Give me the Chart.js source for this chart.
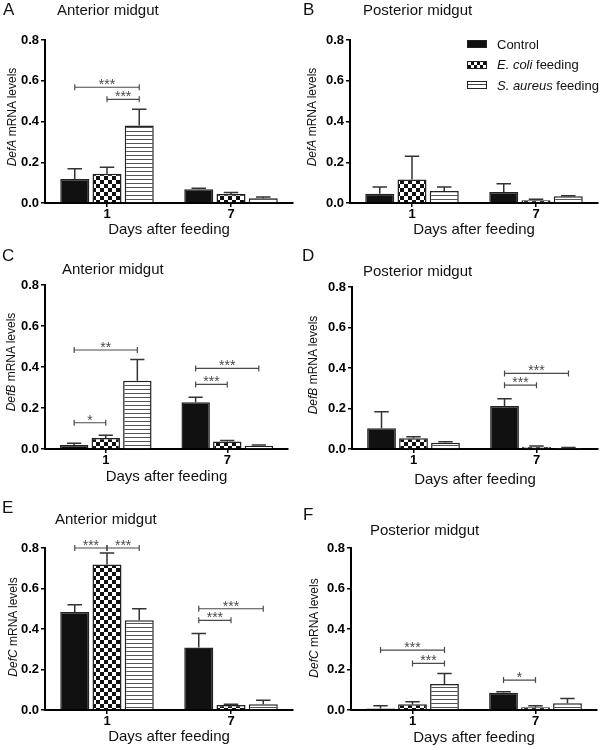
<!DOCTYPE html>
<html>
<head>
<meta charset="utf-8">
<script src="https://cdn.jsdelivr.net/npm/chart.js@4"></script>
<style>
  body { margin: 0; background: #fff; font-family: "Liberation Sans", Arial, sans-serif; color: #111; }
  #wrap { position: relative; width: 600px; height: 750px; }
  canvas { position: absolute; }
  .letter { position: absolute; font-size: 17px; line-height: 16px; }
  .ttl { position: absolute; font-size: 15px; line-height: 15px; white-space: nowrap; }
  .ytitle { position: absolute; font-size: 12px; line-height: 12px; white-space: nowrap;
            transform: translate(-50%, -50%) rotate(-90deg); }
  #legend { position: absolute; left: 467px; top: 34px; font-size: 13px; }
  #legend div { display: flex; align-items: center; height: 20.5px; }
  #legend span.sw { display: inline-block; width: 18px; height: 6px; border: 1.5px solid #222; margin-right: 10px; }
  .sw.ctrl { background: #111; }
  .sw.eco { background: repeating-conic-gradient(#111 0 25%, #fff 0 50%) 0 0 / 6px 6px; }
  .sw.sau { background: linear-gradient(#fff 0 2.5px, #444 2.5px 3.5px, #fff 3.5px); }
</style>
</head>
<body>
<div id="wrap">
  <canvas id="cA" width="300" height="250" style="left:0;top:0"></canvas>
  <canvas id="cB" width="300" height="250" style="left:300px;top:0"></canvas>
  <canvas id="cC" width="300" height="250" style="left:0;top:250px"></canvas>
  <canvas id="cD" width="300" height="250" style="left:300px;top:250px"></canvas>
  <canvas id="cE" width="300" height="250" style="left:0;top:500px"></canvas>
  <canvas id="cF" width="300" height="250" style="left:300px;top:500px"></canvas>

  <div class="letter" style="left:3px;top:2px">A</div>
  <div class="ttl" style="left:57px;top:2px">Anterior midgut</div>
  <div class="letter" style="left:303px;top:2px">B</div>
  <div class="ttl" style="left:363px;top:2px">Posterior midgut</div>
  <div class="letter" style="left:2px;top:248px">C</div>
  <div class="ttl" style="left:62px;top:261px">Anterior midgut</div>
  <div class="letter" style="left:302px;top:248px">D</div>
  <div class="ttl" style="left:363px;top:263px">Posterior midgut</div>
  <div class="letter" style="left:2px;top:500px">E</div>
  <div class="ttl" style="left:55px;top:511px">Anterior midgut</div>
  <div class="letter" style="left:303px;top:507px">F</div>
  <div class="ttl" style="left:370px;top:522px">Posterior midgut</div>

  <div class="ytitle" style="left:11.5px;top:117px"><i>DefA</i> mRNA levels</div>
  <div class="ytitle" style="left:312px;top:117px"><i>DefA</i> mRNA levels</div>
  <div class="ytitle" style="left:11px;top:362px"><i>DefB</i> mRNA levels</div>
  <div class="ytitle" style="left:312.5px;top:365px"><i>DefB</i> mRNA levels</div>
  <div class="ytitle" style="left:12.5px;top:627px"><i>DefC</i> mRNA levels</div>
  <div class="ytitle" style="left:314px;top:628px"><i>DefC</i> mRNA levels</div>

  <div id="legend">
    <div><span class="sw ctrl"></span>Control</div>
    <div><span class="sw eco"></span><i>E. coli</i>&nbsp;feeding</div>
    <div><span class="sw sau"></span><i>S. aureus</i>&nbsp;feeding</div>
  </div>
</div>

<script>
const days = ['1', '7'];
const groups = ['Control', 'E. coli feeding', 'S. aureus feeding'];

// means per group: [day 1, day 7]; *_err = top of the error bar (mean + SEM)
const defA_ant = [[0.118, 0.068], [0.144, 0.044], [0.38, 0.023]];
const defA_ant_err = [[0.168, 0.073], [0.175, 0.052], [0.46, 0.029]];
const defA_post = [[0.046, 0.054], [0.115, 0.013], [0.059, 0.033]];
const defA_post_err = [[0.079, 0.095], [0.23, 0.018], [0.079, 0.036]];
const defB_ant = [[0.02, 0.228], [0.054, 0.036], [0.333, 0.016]];
const defB_ant_err = [[0.028, 0.252], [0.067, 0.042], [0.437, 0.02]];
const defB_post = [[0.102, 0.212], [0.053, 0.011], [0.031, 0.005]];
const defB_post_err = [[0.184, 0.248], [0.061, 0.015], [0.036, 0.007]];
const defC_ant = [[0.484, 0.309], [0.719, 0.025], [0.443, 0.028]];
const defC_ant_err = [[0.52, 0.378], [0.775, 0.028], [0.5, 0.048]];
const defC_post = [[0.008, 0.085], [0.028, 0.013], [0.128, 0.033]];
const defC_post_err = [[0.021, 0.09], [0.041, 0.021], [0.18, 0.057]];

// significance brackets: [day index, from group, to group, level, stars]
const defA_ant_sig = [[0, 0, 2, 0.568, '***'], [0, 1, 2, 0.509, '***']];
const defA_post_sig = [];
const defB_ant_sig = [[0, 0, 2, 0.483, '**'], [0, 0, 1, 0.128, '*'], [1, 0, 2, 0.393, '***'], [1, 0, 1, 0.315, '***']];
const defB_post_sig = [[1, 0, 2, 0.373, '***'], [1, 0, 1, 0.315, '***']];
const defC_ant_sig = [[0, 0, 1, 0.8, '***'], [0, 1, 2, 0.8, '***'], [1, 0, 2, 0.5, '***'], [1, 0, 1, 0.443, '***']];
const defC_post_sig = [[0, 0, 2, 0.296, '***'], [0, 1, 2, 0.23, '***'], [1, 0, 1, 0.148, '*']];

const FONT = '"Liberation Sans", Arial, sans-serif';

function checker() {
  const c = document.createElement('canvas');
  c.width = 8; c.height = 8;
  const x = c.getContext('2d');
  x.fillStyle = '#fff'; x.fillRect(0, 0, 8, 8);
  x.fillStyle = '#111'; x.fillRect(0, 0, 4, 4); x.fillRect(4, 4, 4, 4);
  return x.createPattern(c, 'repeat');
}
function stripes() {
  const c = document.createElement('canvas');
  c.width = 8; c.height = 4;
  const x = c.getContext('2d');
  x.fillStyle = '#fff'; x.fillRect(0, 0, 8, 4);
  x.fillStyle = '#555'; x.fillRect(0, 3, 8, 1);
  return x.createPattern(c, 'repeat');
}
const fills = ['#111', checker(), stripes()];

const extras = {
  id: 'extras',
  afterDatasetsDraw(chart, args, opts) {
    const ctx = chart.ctx, y = chart.scales.y;
    ctx.save();
    ctx.strokeStyle = '#333';
    ctx.lineWidth = 1.5;
    opts.err.forEach((tops, i) => {
      chart.getDatasetMeta(i).data.forEach((bar, j) => {
        const yt = y.getPixelForValue(tops[j]);
        const half = bar.width / 4;
        ctx.beginPath();
        ctx.moveTo(bar.x, bar.y);
        ctx.lineTo(bar.x, yt);
        ctx.moveTo(bar.x - half, yt);
        ctx.lineTo(bar.x + half, yt);
        ctx.stroke();
      });
    });
    ctx.strokeStyle = '#4a4a4a';
    ctx.lineWidth = 1.2;
    ctx.fillStyle = '#4a4a4a';
    ctx.font = '14px ' + FONT;
    ctx.textAlign = 'center';
    ctx.textBaseline = 'alphabetic';
    opts.sig.forEach(([d, a, b, v, txt]) => {
      const x1 = chart.getDatasetMeta(a).data[d].x;
      const x2 = chart.getDatasetMeta(b).data[d].x;
      const yy = y.getPixelForValue(v);
      ctx.beginPath();
      ctx.moveTo(x1, yy); ctx.lineTo(x2, yy);
      ctx.moveTo(x1, yy - 3); ctx.lineTo(x1, yy + 3);
      ctx.moveTo(x2, yy - 3); ctx.lineTo(x2, yy + 3);
      ctx.stroke();
      ctx.fillText(txt, (x1 + x2) / 2, yy + 2);
    });
    ctx.restore();
  }
};

function makeChart(id, means, errs, sig, g) {
  new Chart(document.getElementById(id), {
    type: 'bar',
    data: {
      labels: days,
      datasets: groups.map((name, i) => ({
        label: name,
        data: means[i],
        backgroundColor: fills[i],
        borderColor: '#222',
        borderWidth: 1.5,
        categoryPercentage: 0.78,
        barPercentage: 0.9
      }))
    },
    options: {
      responsive: false,
      animation: false,
      layout: { padding: { top: g.top, right: 300 - g.right, left: 0, bottom: 0 } },
      plugins: {
        legend: { display: false },
        tooltip: { enabled: false },
        extras: { err: errs, sig: sig }
      },
      scales: {
        x: {
          grid: { drawOnChartArea: false, offset: false, tickLength: 4, color: '#000', lineWidth: 1.5 },
          border: { color: '#000', width: 2 },
          ticks: { color: '#000', padding: 0, font: { size: 13, weight: 'bold', family: FONT } },
          title: {
            display: true, text: 'Days after feeding', color: '#111',
            font: { size: 15, family: FONT }, padding: { top: 0, bottom: 241 - g.titleY }
          },
          afterFit: s => { s.height = 250 - g.bottom; }
        },
        y: {
          min: 0, max: 0.8,
          grid: { drawOnChartArea: false, tickLength: 4, color: '#000', lineWidth: 1.5 },
          border: { color: '#000', width: 2 },
          ticks: {
            stepSize: 0.2, padding: 2, color: '#000',
            font: { size: 13, weight: 'bold', family: FONT },
            callback: v => v.toFixed(1)
          },
          afterFit: s => { s.width = g.axis; }
        }
      }
    },
    plugins: [extras]
  });
}

makeChart('cA', defA_ant, defA_ant_err, defA_ant_sig, { axis: 45, top: 40, bottom: 203, right: 293, titleY: 230 });
makeChart('cB', defA_post, defA_post_err, defA_post_sig, { axis: 50, top: 40, bottom: 203, right: 298, titleY: 230 });
makeChart('cC', defB_ant, defB_ant_err, defB_ant_sig, { axis: 45, top: 35, bottom: 199, right: 288, titleY: 227 });
makeChart('cD', defB_post, defB_post_err, defB_post_sig, { axis: 52, top: 37, bottom: 199, right: 298, titleY: 230 });
makeChart('cE', defC_ant, defC_ant_err, defC_ant_sig, { axis: 45, top: 48, bottom: 210, right: 293, titleY: 237 });
makeChart('cF', defC_post, defC_post_err, defC_post_sig, { axis: 51, top: 48, bottom: 210, right: 297, titleY: 238 });
</script>
</body>
</html>
